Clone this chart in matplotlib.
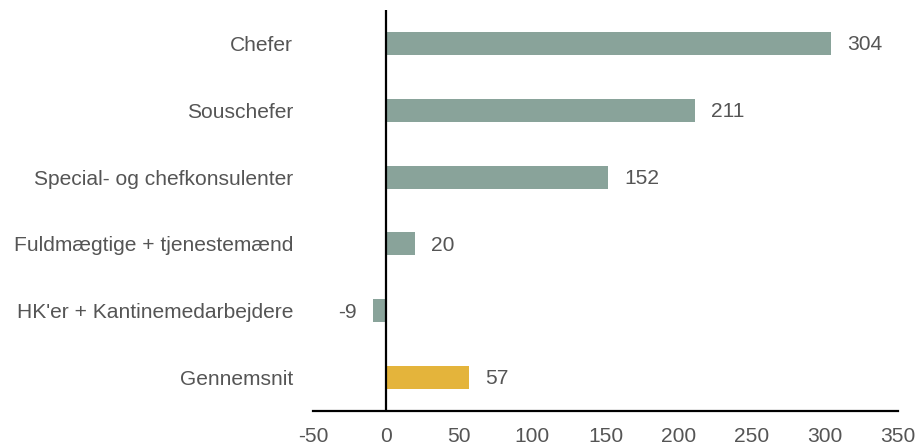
import matplotlib.pyplot as plt

# ---------------------------------------
# Data
# ---------------------------------------
categories = ["Chefer", "Souschefer", "Special- og chefkonsulenter",
              "Fuldmægtige + tjenestemænd", "HK'er + Kantinemedarbejdere",
              "Gennemsnit"]
values = [304, 211, 152, 20, -9, 57]
colors = ["#89a39a"] * 5 + ["#e4b43b"]
xticks = [-50, 0, 50, 100, 150, 200, 250, 300, 350]

plt.rcParams['font.family'] = ['Liberation Sans', 'DejaVu Sans']
text_col = "#555555"

fig = plt.figure(figsize=(9.2, 4.47), dpi=100)
ax = fig.add_axes([313/920, 1-411/447, (898-313)/920, (411-10)/447])

pos = list(range(len(categories)))
ax.barh(pos, values, height=0.345, color=colors)

# value labels
for p, v in zip(pos, values):
    if v >= 0:
        ax.annotate(str(v), (v, p), xytext=(11.5, -1), textcoords="offset points",
                    ha="left", va="center", fontsize=15.1, color=text_col)
    else:
        ax.annotate(str(v), (v, p), xytext=(-12, -1), textcoords="offset points",
                    ha="right", va="center", fontsize=15.1, color=text_col)

ax.axvline(0, color="black", lw=1.6)

ax.set_xlim(-50, 350)
ax.set_ylim(5.5, -0.5)
ax.set_yticks(pos)
ax.set_yticklabels(categories)
ax.set_xticks(xticks)
ax.set_xticklabels([str(t) for t in xticks])
ax.tick_params(axis="y", length=0, pad=14.4, labelsize=15.1, labelcolor=text_col)
ax.tick_params(axis="x", length=0, pad=11.5, labelsize=15.1, labelcolor=text_col)

for s in ["left", "right", "top"]:
    ax.spines[s].set_visible(False)
ax.spines["bottom"].set_linewidth(1.6)
ax.spines["bottom"].set_color("black")

fig.savefig("out.png", dpi=100)
